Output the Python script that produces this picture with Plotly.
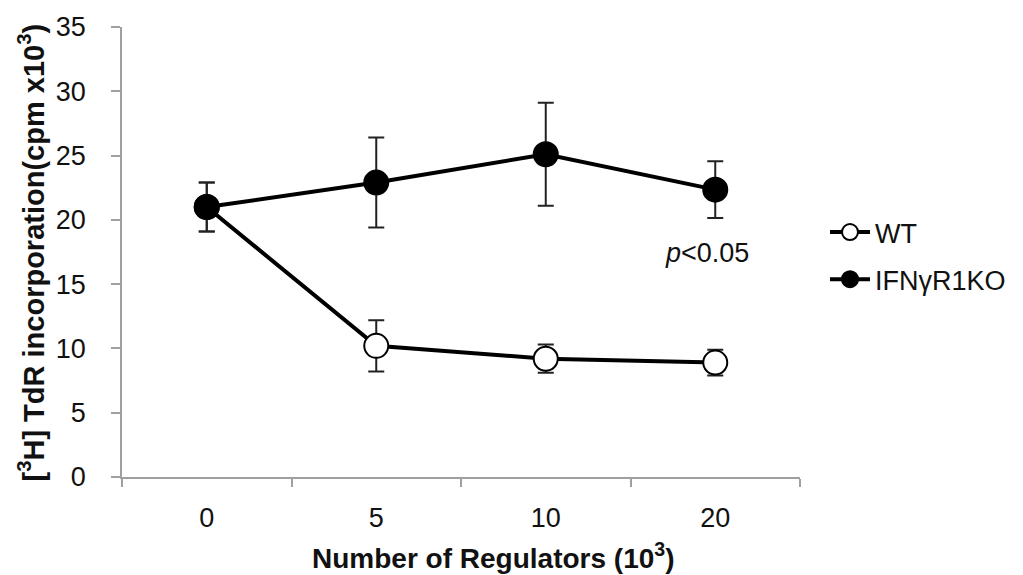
import plotly.graph_objects as go

categories = ["0", "5", "10", "20"]
wt_values = [21.0, 10.2, 9.2, 8.9]
wt_err = [1.9, 2.0, 1.1, 1.0]
ko_values = [21.0, 22.9, 25.1, 22.35]
ko_err = [1.9, 3.5, 4.0, 2.2]
y_ticks = [0, 5, 10, 15, 20, 25, 30, 35]

FONT = "Liberation Sans, Arial, sans-serif"
W, H = 1023, 575
L, R, T, B = 122, 223, 22, 98
pw = W - L - R
ph = H - T - B

fig = go.Figure()
fig.add_trace(go.Scatter(
    x=categories, y=wt_values, name="WT", legendgroup="wt",
    mode="lines+markers",
    line=dict(color="black", width=4),
    marker=dict(size=24, color="white", line=dict(color="black", width=2)),
    error_y=dict(type="data", array=wt_err, visible=True, color="#222", thickness=2, width=8),
))
fig.add_trace(go.Scatter(
    x=categories, y=ko_values, name="IFNγR1KO", legendgroup="ko",
    mode="lines+markers",
    line=dict(color="black", width=4),
    marker=dict(size=24, color="black", line=dict(color="black", width=2)),
    error_y=dict(type="data", array=ko_err, visible=True, color="#222", thickness=2, width=8),
))

fig.add_annotation(
    xref="paper", yref="y", x=(707 - L) / pw, y=17.4,
    text="<i>p</i>&lt;0.05", showarrow=False,
    font=dict(family=FONT, size=27, color="#111"),
    xanchor="center", yanchor="middle",
)
fig.add_annotation(
    xref="paper", yref="paper", x=(493 - L) / pw, y=-(557 - (H - B)) / ph,
    text="<b>Number of Regulators (10<sup>3</sup>)</b>", showarrow=False,
    font=dict(family=FONT, size=28, color="#111"),
    xanchor="center", yanchor="middle",
)
fig.add_annotation(
    xref="paper", yref="paper", x=(32 - L) / pw, y=((H - B) - 250) / ph,
    text="<b>[<sup>3</sup>H] TdR incorporation(cpm x10<sup>3</sup>)</b>", showarrow=False,
    textangle=-90,
    font=dict(family=FONT, size=29, color="#111"),
    xanchor="center", yanchor="middle",
)

fig.update_layout(
    width=W, height=H,
    margin=dict(l=L, r=R, t=T, b=B),
    paper_bgcolor="white", plot_bgcolor="white",
    font=dict(family=FONT, size=27, color="#111"),
    showlegend=True,
    legend=dict(
        x=(825 - L) / pw, y=((H - B) - 205) / ph, xanchor="left", yanchor="top",
        font=dict(family=FONT, size=27, color="#111"),
        tracegroupgap=9, bgcolor="rgba(0,0,0,0)",
        itemwidth=40,
    ),
    xaxis=dict(
        type="category", range=[-0.5, 3.5],
        showline=True, linecolor="#a0a0a0", linewidth=1.5,
        ticks="outside", tickson="boundaries", ticklen=8, tickcolor="#a0a0a0", tickwidth=1.5,
        ticklabelstandoff=16,
        showgrid=False, zeroline=False,
        tickfont=dict(family=FONT, size=27, color="#111"),
    ),
    yaxis=dict(
        range=[0, 35], tickvals=y_ticks,
        showline=True, linecolor="#a0a0a0", linewidth=1.5,
        ticks="outside", ticklen=9, tickcolor="#a0a0a0", tickwidth=1.5,
        ticklabelstandoff=20,
        showgrid=False, zeroline=False,
        tickfont=dict(family=FONT, size=27, color="#111"),
    ),
)

fig.write_html("out.html")
